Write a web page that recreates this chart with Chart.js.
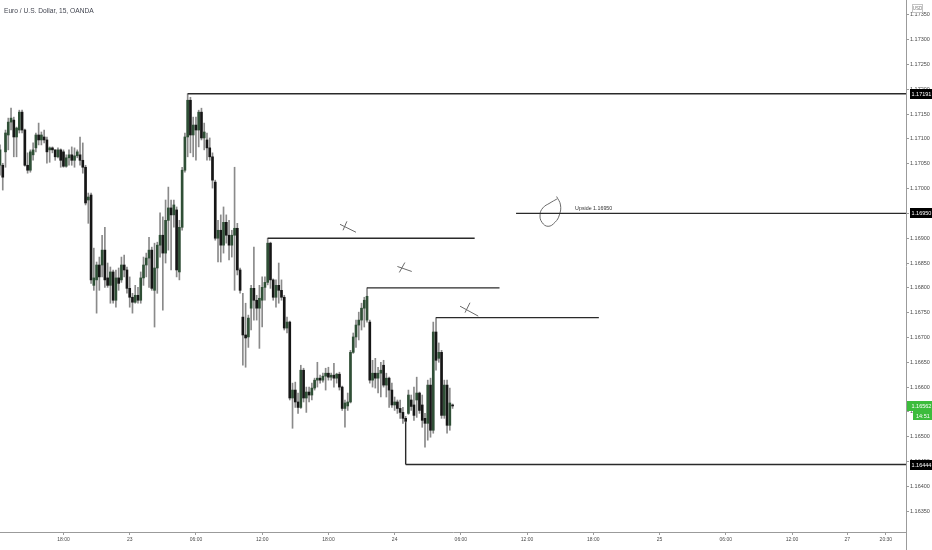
<!DOCTYPE html>
<html>
<head>
<meta charset="utf-8">
<style>
  html, body { margin: 0; padding: 0; background: #fff; overflow: hidden; }
  canvas { display: block; }
</style>
<script src="https://cdn.jsdelivr.net/npm/chart.js@4.4.1/dist/chart.umd.min.js"></script>
</head>
<body>
<canvas id="fx" width="932" height="550"></canvas>
<script>
// EUR/USD 15m candles (one per bar, oldest first)
const opens = [
  1.17047, 1.17047, 1.17074, 1.17108, 1.17134, 1.17138, 1.17104, 1.17118, 1.17154, 1.17118,
  1.17047, 1.17037, 1.17068, 1.17082, 1.17108, 1.17098, 1.17104, 1.17098, 1.17078, 1.17082,
  1.17078, 1.17064, 1.17078, 1.17074, 1.17045, 1.17062, 1.17068, 1.17057, 1.17066, 1.17068,
  1.17057, 1.17043, 1.16977, 1.16987, 1.16805, 1.16816, 1.16846, 1.16846, 1.16876, 1.16820,
  1.16805, 1.16832, 1.16775, 1.16820, 1.16816, 1.16846, 1.16836, 1.16799, 1.16781, 1.16771,
  1.16785, 1.16775, 1.16820, 1.16846, 1.16860, 1.16876, 1.16795, 1.16840, 1.16886, 1.16906,
  1.16870, 1.16936, 1.16961, 1.16947, 1.16957, 1.16832, 1.16922, 1.17037, 1.17104, 1.17178,
  1.17108, 1.17128, 1.17118, 1.17154, 1.17102, 1.17098, 1.17082, 1.17064, 1.17013, 1.16900,
  1.16916, 1.16886, 1.16932, 1.16906, 1.16886, 1.16906, 1.16920, 1.16836, 1.16741, 1.16705,
  1.16701, 1.16759, 1.16799, 1.16775, 1.16759, 1.16775, 1.16801, 1.16811, 1.16890, 1.16816,
  1.16781, 1.16805, 1.16795, 1.16781, 1.16719, 1.16731, 1.16578, 1.16594, 1.16570, 1.16559,
  1.16634, 1.16578, 1.16590, 1.16584, 1.16598, 1.16614, 1.16618, 1.16614, 1.16622, 1.16628,
  1.16620, 1.16624, 1.16618, 1.16626, 1.16600, 1.16557, 1.16562, 1.16570, 1.16670, 1.16701,
  1.16725, 1.16735, 1.16759, 1.16735, 1.16731, 1.16614, 1.16628, 1.16618, 1.16628, 1.16644,
  1.16604, 1.16618, 1.16594, 1.16564, 1.16570, 1.16557, 1.16549, 1.16537, 1.16547, 1.16574,
  1.16564, 1.16574, 1.16588, 1.16564, 1.16537, 1.16527, 1.16604, 1.16513, 1.16711, 1.16658,
  1.16670, 1.16543, 1.16604, 1.16523, 1.16564
];
const highs = [
  1.17088, 1.17051, 1.17118, 1.17142, 1.17162, 1.17144, 1.17124, 1.17158, 1.17158, 1.17120,
  1.17072, 1.17078, 1.17092, 1.17112, 1.17132, 1.17114, 1.17118, 1.17104, 1.17084, 1.17084,
  1.17078, 1.17082, 1.17080, 1.17078, 1.17068, 1.17078, 1.17084, 1.17082, 1.17078, 1.17104,
  1.17092, 1.17047, 1.16991, 1.16991, 1.16880, 1.16852, 1.16862, 1.16906, 1.16922, 1.16850,
  1.16842, 1.16836, 1.16836, 1.16840, 1.16862, 1.16866, 1.16842, 1.16822, 1.16789, 1.16805,
  1.16801, 1.16832, 1.16862, 1.16870, 1.16902, 1.16882, 1.16890, 1.16892, 1.16951, 1.16943,
  1.16977, 1.17003, 1.16977, 1.16977, 1.16963, 1.16936, 1.17043, 1.17112, 1.17191, 1.17184,
  1.17144, 1.17144, 1.17158, 1.17162, 1.17132, 1.17112, 1.17102, 1.17072, 1.17017, 1.16936,
  1.16947, 1.16963, 1.16947, 1.16936, 1.16916, 1.17043, 1.16930, 1.16840, 1.16789, 1.16769,
  1.16745, 1.16805, 1.16882, 1.16785, 1.16805, 1.16822, 1.16822, 1.16900, 1.16892, 1.16818,
  1.16816, 1.16850, 1.16816, 1.16785, 1.16741, 1.16733, 1.16608, 1.16610, 1.16588, 1.16644,
  1.16638, 1.16600, 1.16600, 1.16608, 1.16618, 1.16650, 1.16624, 1.16628, 1.16638, 1.16640,
  1.16628, 1.16648, 1.16628, 1.16630, 1.16602, 1.16574, 1.16588, 1.16674, 1.16709, 1.16735,
  1.16751, 1.16769, 1.16781, 1.16800, 1.16735, 1.16654, 1.16658, 1.16640, 1.16650, 1.16654,
  1.16628, 1.16620, 1.16608, 1.16580, 1.16574, 1.16574, 1.16559, 1.16541, 1.16594, 1.16584,
  1.16600, 1.16620, 1.16590, 1.16584, 1.16547, 1.16614, 1.16618, 1.16731, 1.16740, 1.16689,
  1.16674, 1.16614, 1.16614, 1.16598, 1.16566
];
const lows = [
  1.17027, 1.16997, 1.17043, 1.17078, 1.17118, 1.17064, 1.17064, 1.17112, 1.17112, 1.17045,
  1.17031, 1.17033, 1.17057, 1.17074, 1.17088, 1.17088, 1.17092, 1.17051, 1.17053, 1.17072,
  1.17057, 1.17062, 1.17043, 1.17043, 1.17043, 1.17047, 1.17047, 1.17043, 1.17062, 1.17047,
  1.17031, 1.16967, 1.16930, 1.16809, 1.16795, 1.16749, 1.16795, 1.16822, 1.16801, 1.16801,
  1.16769, 1.16769, 1.16761, 1.16795, 1.16811, 1.16822, 1.16789, 1.16761, 1.16749, 1.16769,
  1.16769, 1.16769, 1.16805, 1.16822, 1.16801, 1.16795, 1.16721, 1.16789, 1.16862, 1.16755,
  1.16850, 1.16876, 1.16836, 1.16922, 1.16822, 1.16816, 1.16916, 1.17033, 1.17064, 1.17072,
  1.17064, 1.17057, 1.17084, 1.17098, 1.17078, 1.17057, 1.17057, 1.17001, 1.16896, 1.16852,
  1.16852, 1.16870, 1.16890, 1.16856, 1.16862, 1.16795, 1.16826, 1.16789, 1.16644, 1.16640,
  1.16680, 1.16715, 1.16735, 1.16735, 1.16678, 1.16721, 1.16775, 1.16806, 1.16799, 1.16775,
  1.16761, 1.16769, 1.16775, 1.16715, 1.16709, 1.16574, 1.16517, 1.16559, 1.16547, 1.16557,
  1.16570, 1.16549, 1.16570, 1.16574, 1.16594, 1.16600, 1.16608, 1.16610, 1.16594, 1.16614,
  1.16614, 1.16600, 1.16608, 1.16594, 1.16553, 1.16519, 1.16553, 1.16568, 1.16668, 1.16680,
  1.16695, 1.16715, 1.16721, 1.16731, 1.16608, 1.16600, 1.16598, 1.16588, 1.16580, 1.16600,
  1.16580, 1.16559, 1.16559, 1.16553, 1.16547, 1.16537, 1.16527, 1.16529, 1.16545, 1.16553,
  1.16533, 1.16539, 1.16547, 1.16519, 1.16479, 1.16493, 1.16499, 1.16507, 1.16634, 1.16650,
  1.16537, 1.16537, 1.16507, 1.16513, 1.16557
];
const closes = [
  1.17078, 1.17023, 1.17112, 1.17134, 1.17142, 1.17104, 1.17122, 1.17154, 1.17118, 1.17047,
  1.17037, 1.17074, 1.17078, 1.17108, 1.17098, 1.17108, 1.17098, 1.17074, 1.17082, 1.17078,
  1.17064, 1.17078, 1.17057, 1.17045, 1.17062, 1.17068, 1.17057, 1.17066, 1.17074, 1.17057,
  1.17043, 1.16971, 1.16983, 1.16816, 1.16820, 1.16846, 1.16822, 1.16876, 1.16816, 1.16805,
  1.16832, 1.16775, 1.16820, 1.16809, 1.16846, 1.16836, 1.16799, 1.16781, 1.16771, 1.16785,
  1.16775, 1.16820, 1.16846, 1.16860, 1.16876, 1.16799, 1.16840, 1.16886, 1.16906, 1.16870,
  1.16936, 1.16961, 1.16947, 1.16967, 1.16836, 1.16922, 1.17037, 1.17104, 1.17178, 1.17108,
  1.17128, 1.17118, 1.17154, 1.17102, 1.17114, 1.17082, 1.17064, 1.17017, 1.16900, 1.16916,
  1.16886, 1.16932, 1.16906, 1.16886, 1.16906, 1.16920, 1.16836, 1.16795, 1.16705, 1.16699,
  1.16739, 1.16799, 1.16775, 1.16759, 1.16779, 1.16801, 1.16811, 1.16890, 1.16816, 1.16781,
  1.16805, 1.16795, 1.16781, 1.16719, 1.16731, 1.16578, 1.16594, 1.16570, 1.16559, 1.16634,
  1.16578, 1.16590, 1.16584, 1.16598, 1.16614, 1.16618, 1.16614, 1.16622, 1.16628, 1.16620,
  1.16624, 1.16618, 1.16626, 1.16600, 1.16557, 1.16568, 1.16570, 1.16670, 1.16701, 1.16725,
  1.16735, 1.16759, 1.16775, 1.16783, 1.16614, 1.16628, 1.16618, 1.16628, 1.16634, 1.16604,
  1.16618, 1.16594, 1.16564, 1.16570, 1.16557, 1.16549, 1.16537, 1.16531, 1.16584, 1.16561,
  1.16543, 1.16588, 1.16553, 1.16533, 1.16527, 1.16604, 1.16513, 1.16711, 1.16654, 1.16670,
  1.16543, 1.16604, 1.16523, 1.16568, 1.16562
];

// time axis (bar index) and its labels
const timeTicks  = [23, 47, 71, 95, 119, 143, 167, 191, 215, 239, 263, 287, 307, 321];
const timeLabels = ['18:00', '23', '06:00', '12:00', '18:00', '24', '06:00', '12:00', '18:00', '25', '06:00', '12:00', '27', '20:30'];
const lastBar = 328.3;

// price axis
const priceTicks = [
  1.16350, 1.16400, 1.16450, 1.16500, 1.16550, 1.16600, 1.16650, 1.16700, 1.16750, 1.16800,
  1.16850, 1.16900, 1.16950, 1.17000, 1.17050, 1.17100, 1.17150, 1.17200, 1.17250, 1.17300, 1.17350
];
const priceMin = 1.16308;
const priceMax = 1.17380;

// drawn horizontal levels: price, first bar, last bar
const levelPrices = [1.17191, 1.16950, 1.16900, 1.16800, 1.16740, 1.16444];
const levelStart  = [68, 187, 97, 133, 158, 147];
const levelEnd    = [lastBar, lastBar, 172, 181, 217, lastBar];
const supportDrop = [1.16529, 1.16444]; // vertical leg at bar 147

// hand-drawn crosses and the loop (bar, price)
const crossStrokes = [
  [[123.2, 1.16928], [129.0, 1.16912]],
  [[124.3, 1.16916], [125.7, 1.16934]],
  [[144.0, 1.16843], [149.2, 1.16833]],
  [[144.7, 1.16831], [146.7, 1.16851]],
  [[166.7, 1.16763], [173.3, 1.16743]],
  [[168.5, 1.16750], [170.3, 1.16770]]
];
const loopPath = [
  [201.7, 1.16984], [203.1, 1.16967], [202.7, 1.16947], [201.1, 1.16932], [198.6, 1.16924],
  [196.4, 1.16932], [195.7, 1.16947], [196.7, 1.16961], [199.3, 1.16971], [201.8, 1.16979]
];
const upsideText = 'Upside 1.16950';
const upsideAt = [208.4, 1.16950];

const axisTags = [1.17191, 1.16950, 1.16444];
const lastPrice = 1.16562;
const countdown = '14:51';
const title = 'Euro / U.S. Dollar, 15, OANDA';

const FONT = '"Liberation Sans", Arial, sans-serif';
const UP = '#2f4f36';
const DOWN = '#161616';
const WICK = '#8a8a8a';
const AXIS = '#9b9b9b';
const DRAW = '#2a2a2a';
const PEN = '#6a6a6a';
const GREEN = '#3cbc3c';

const wickData = lows.map((l, i) => ({ x: i, y: [l, highs[i]] }));
const bodyData = opens.map((o, i) => ({ x: i, y: [o, closes[i]] }));
const bodyColors = opens.map((o, i) => (closes[i] > o ? UP : DOWN));

const lineSet = (pts, color, width, extra) => Object.assign({
  type: 'line',
  data: pts.map(p => ({ x: p[0], y: p[1] })),
  borderColor: color,
  borderWidth: width,
  pointRadius: 0,
  fill: false,
  tension: 0,
  order: 1
}, extra || {});

const datasets = [
  {
    type: 'bar', data: wickData, backgroundColor: WICK, borderWidth: 0,
    grouped: false, barPercentage: 1, categoryPercentage: 1, maxBarThickness: 1, order: 4
  },
  {
    type: 'bar', data: bodyData, backgroundColor: bodyColors, borderWidth: 0,
    grouped: false, barPercentage: 1, categoryPercentage: 1, maxBarThickness: 2, minBarLength: 1, order: 3
  }
];

levelPrices.forEach((p, k) => {
  datasets.push(lineSet([[levelStart[k], p], [levelEnd[k], p]], DRAW, 1.4));
});
datasets.push(lineSet([[147, supportDrop[0]], [147, supportDrop[1]]], DRAW, 1.4));
crossStrokes.forEach(s => datasets.push(lineSet(s, PEN, 1)));
datasets.push(lineSet(loopPath, PEN, 1, { tension: 0.45 }));

const overlay = {
  id: 'overlay',
  afterDraw(chart) {
    const { ctx, chartArea, scales: { x, y } } = chart;
    const W = chart.width;
    ctx.save();

    // title, squeezed to the narrow face of the original
    ctx.save();
    ctx.translate(4, 11);
    ctx.scale(0.83, 1);
    ctx.font = '8px ' + FONT;
    ctx.fillStyle = '#434651';
    ctx.textAlign = 'left';
    ctx.textBaseline = 'middle';
    ctx.fillText(title, 0, 0);
    ctx.restore();

    // note on the level
    ctx.font = '5.3px ' + FONT;
    ctx.fillStyle = '#333';
    ctx.textBaseline = 'alphabetic';
    ctx.fillText(upsideText, x.getPixelForValue(upsideAt[0]), y.getPixelForValue(upsideAt[1]) - 3);

    // price axis line down to the bottom edge
    ctx.strokeStyle = AXIS;
    ctx.lineWidth = 1;
    ctx.beginPath();
    ctx.moveTo(Math.round(chartArea.right) + 0.5, chartArea.bottom);
    ctx.lineTo(Math.round(chartArea.right) + 0.5, chart.height);
    ctx.stroke();

    // black level tags
    ctx.textBaseline = 'middle';
    axisTags.forEach(p => {
      const py = Math.round(y.getPixelForValue(p));
      ctx.fillStyle = '#000';
      ctx.fillRect(910, py - 5, W - 910, 10);
      ctx.fillStyle = '#fff';
      ctx.font = '5.5px ' + FONT;
      ctx.fillText(p.toFixed(5), 911.5, py + 0.5);
    });

    // last price + countdown
    const ly = Math.round(y.getPixelForValue(lastPrice));
    ctx.fillStyle = GREEN;
    ctx.fillRect(907, ly - 5, W - 907, 10);
    ctx.fillRect(913, ly + 5, W - 913, 9);
    ctx.fillStyle = '#fff';
    ctx.font = '5.5px ' + FONT;
    ctx.fillText(lastPrice.toFixed(5), 911.5, ly + 0.5);
    ctx.fillText(countdown, 916, ly + 10);

    // currency box
    ctx.strokeStyle = '#c4c4c4';
    ctx.strokeRect(912.5, 4.5, 10, 8);
    ctx.fillStyle = '#777';
    ctx.font = '4.5px ' + FONT;
    ctx.textAlign = 'center';
    ctx.fillText('USD', 917.5, 8.8);

    ctx.restore();
  }
};

new Chart(document.getElementById('fx'), {
  type: 'bar',
  data: { datasets },
  options: {
    responsive: false,
    animation: false,
    devicePixelRatio: 1,
    layout: { padding: 0 },
    plugins: { legend: { display: false }, tooltip: { enabled: false } },
    events: [],
    scales: {
      x: {
        type: 'linear',
        min: 0,
        max: lastBar,
        offset: false,
        grid: { drawOnChartArea: false, drawTicks: true, tickLength: 3, color: AXIS, offset: false },
        border: { display: true, color: AXIS },
        ticks: {
          autoSkip: false, maxRotation: 0, padding: 2, color: '#4a4a4a',
          font: { size: 5, family: FONT },
          callback: v => timeLabels[timeTicks.indexOf(v)]
        },
        afterBuildTicks: s => { s.ticks = timeTicks.map(v => ({ value: v })); },
        afterFit: s => { s.height = 18; s.paddingLeft = 0; s.paddingRight = 0; }
      },
      y: {
        type: 'linear',
        position: 'right',
        min: priceMin,
        max: priceMax,
        grid: { drawOnChartArea: false, drawTicks: true, tickLength: 3, color: AXIS },
        border: { display: true, color: AXIS },
        ticks: {
          padding: 1, color: '#4a4a4a',
          font: { size: 5.5, family: FONT },
          callback: v => Number(v).toFixed(5)
        },
        afterBuildTicks: s => { s.ticks = priceTicks.map(v => ({ value: v })); },
        afterFit: s => { s.width = 26; s.paddingTop = 0; s.paddingBottom = 0; }
      }
    }
  },
  plugins: [overlay]
});
</script>
</body>
</html>
